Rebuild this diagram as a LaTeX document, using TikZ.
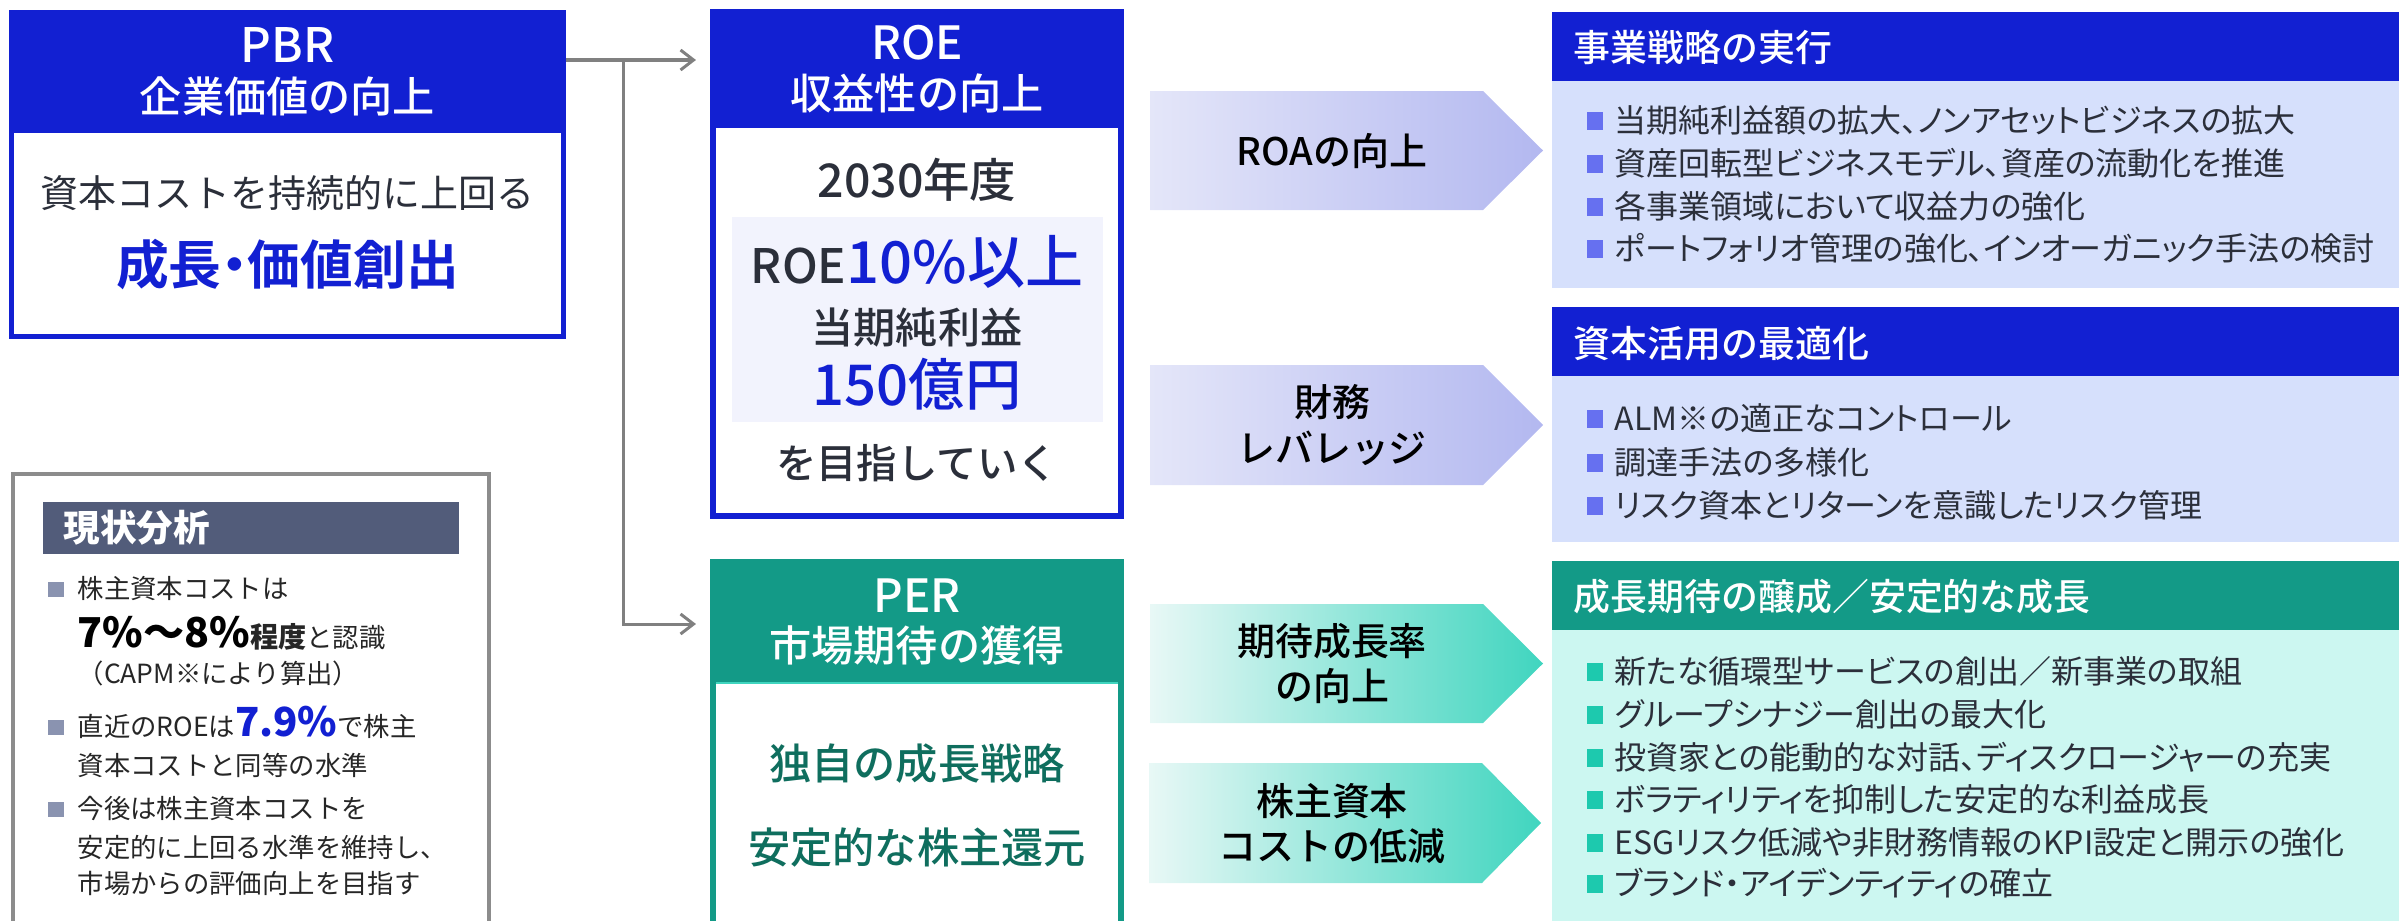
\documentclass[tikz,border=0pt]{standalone}
\usepackage{fontspec}
\setmainfont{Noto Sans CJK JP}
\newfontfamily\med{Noto Sans CJK JP Medium}
\newfontfamily\pal[RawFeature=+palt]{Noto Sans CJK JP}
\newfontfamily\palb[RawFeature=+palt]{Noto Sans CJK JP Bold}
\usetikzlibrary{arrows.meta,calc}
\definecolor{hblue}{HTML}{1220D2}
\definecolor{hgreen}{HTML}{139A87}
\definecolor{lblue}{HTML}{D6E0FC}
\definecolor{lgreen}{HTML}{CCF7F1}
\definecolor{bblue}{HTML}{6670F0}
\definecolor{bgreen}{HTML}{1DC9AE}
\definecolor{roebg}{HTML}{F2F3FD}
\definecolor{txt}{HTML}{2B2F3A}
\definecolor{dgreen}{HTML}{0F6E5E}
\definecolor{slate}{HTML}{525C7A}
\definecolor{gbul}{HTML}{8A93B0}
\definecolor{gborder}{HTML}{8C8C8C}
\definecolor{conng}{HTML}{808080}
\definecolor{arbL}{HTML}{E4E6F9}
\definecolor{arbR}{HTML}{B3B8F0}
\definecolor{argL}{HTML}{E8F8F6}
\definecolor{argR}{HTML}{40D5BF}
\newcommand\fs[1]{\fontsize{#1}{#1}\selectfont}
\begin{document}
\begin{tikzpicture}[x=0.01cm,y=-0.01cm,
  t/.style={inner sep=0,text=txt},
  wt/.style={inner sep=0,text=white},
  conn/.style={draw=conng,line width=0.03cm,-{Straight Barb[length=0.13cm,width=0.2cm]}},
  frame/.style={inner sep=0,anchor=north west,outer sep=0},
  bulb/.style={fill=bblue,inner sep=0,minimum width=0.16cm,minimum height=0.18cm},
  bulg/.style={fill=bgreen,inner sep=0,minimum width=0.16cm,minimum height=0.18cm},
  bulk/.style={fill=gbul,inner sep=0,minimum width=0.16cm,minimum height=0.15cm},
  li/.style={inner sep=0,text=txt,anchor=base west,font=\pal\fs{9.1}},
  sl/.style={inner sep=0,text=black!85,anchor=base west,font=\fs{7.5}},
  arrtxt/.style={inner sep=0,text=black,anchor=base,font=\med\fs{10.8}},
  rhd/.style={inner sep=0,text=white,anchor=base west,font=\med\fs{10.5}}]
\useasboundingbox (0,0) rectangle (2399,921);
\clip (0,0) rectangle (2399,921);

% ---------- PBR ----------
\node[frame,fill=hblue,minimum width=5.57cm,minimum height=3.29cm] (pbr) at (9,10) {};
\fill[white] (14,133) rectangle (561,334);
\node[wt,anchor=base,font=\med\fs{13.5}] (pbrT) at (287.5,62) {PBR};
\node[wt,anchor=base,font=\med\fs{12}] (pbrS) at (287.5,112) {企業価値の向上};
\node[t,anchor=base,font=\fs{10.8}] (pbrB) at (287.5,207) {資本コストを持続的に上回る};
\node[inner sep=0,text=hblue,anchor=base,font=\palb\fs{15}] (pbrC) at (287.5,284) {成長・価値創出};

% ---------- ROE ----------
\node[frame,fill=hblue,minimum width=4.14cm,minimum height=5.10cm] (roe) at (710,9) {};
\fill[white] (716,128) rectangle (1118,513);
\fill[roebg] (732,217) rectangle (1103,422);
\node[wt,anchor=base,font=\med\fs{13}] (roeT) at (917,60) {ROE};
\node[wt,anchor=base,font=\med\fs{12}] (roeS) at (917,109) {収益性の向上};
\node[t,anchor=base,font=\med\fs{13.2}] (roeY) at (917,197) {2030年度};
\node[t,anchor=base,font=\med\fs{13.5}] (roeR) at (917,283) {ROE\textcolor{hblue}{\fs{16.5}10\%以上}};
\node[t,anchor=base,font=\med\fs{12}] (roeN) at (917,343) {当期純利益};
\node[inner sep=0,text=hblue,anchor=base,font=\med\fs{16}] (roeV) at (917,405) {150億円};
\node[t,anchor=base,font=\med\fs{11.5}] (roeG) at (917,478) {を目指していく};

% ---------- PER ----------
\node[frame,fill=hgreen,minimum width=4.14cm,minimum height=3.9cm] (per) at (710,559) {};
\fill[white] (716,682) rectangle (1118,960);
\draw[argR,line width=0.02cm] (716,683) -- (1118,683);
\node[wt,anchor=base,font=\med\fs{13}] (perT) at (917,612) {PER};
\node[wt,anchor=base,font=\med\fs{12}] (perS) at (917,661) {市場期待の獲得};
\node[inner sep=0,text=dgreen,anchor=base,font=\med\fs{12}] (perA) at (917,779) {独自の成長戦略};
\node[inner sep=0,text=dgreen,anchor=base,font=\med\fs{12}] (perB) at (917,863) {安定的な株主還元};

% ---------- connectors ----------
\coordinate (split) at ($(pbr.north east)+(57,50)$);
\draw[conn,shorten >=0.14cm] ($(pbr.north east)+(0,50)$) -- ($(roe.north west)+(0,51)$);
\draw[conn,shorten >=0.14cm] (split) |- ($(per.north west)+(0,65)$);

% ---------- arrows ----------
\shade[left color=arbL,right color=arbR] (1150,91) -- (1483,91) -- (1543,150.5) -- (1483,210) -- (1150,210) -- cycle;
\shade[left color=arbL,right color=arbR] (1150,365) -- (1483,365) -- (1543,425) -- (1483,485) -- (1150,485) -- cycle;
\shade[left color=argL,right color=argR] (1150,604) -- (1483,604) -- (1543,663.5) -- (1483,723) -- (1150,723) -- cycle;
\shade[left color=argL,right color=argR] (1149,763) -- (1482,763) -- (1541,823) -- (1482,883) -- (1149,883) -- cycle;
\node[arrtxt] (a1) at (1332,165) {ROAの向上};
\node[arrtxt] (a2a) at (1332,416) {財務};
\node[arrtxt] (a2b) at (1332,462) {レバレッジ};
\node[arrtxt] (a3a) at (1332,655) {期待成長率};
\node[arrtxt] (a3b) at (1332,700) {の向上};
\node[arrtxt] (a4a) at (1332,815) {株主資本};
\node[arrtxt] (a4b) at (1332,860) {コストの低減};

% ---------- right box 1 ----------
\node[frame,fill=lblue,minimum width=8.5cm,minimum height=2.76cm] (rb1) at (1552,12) {};
\node[frame,fill=hblue,minimum width=8.5cm,minimum height=0.69cm] (rh1) at (1552,12) {};
\node[rhd] (rt1) at (1573,61) {事業戦略の実行};
\node[bulb] (q11) at (1595,121) {}; \node[li] (l11) at (1614,132) {当期純利益額の拡大、ノンアセットビジネスの拡大};
\node[bulb] (q12) at (1595,164) {}; \node[li] (l12) at (1614,175) {資産回転型ビジネスモデル、資産の流動化を推進};
\node[bulb] (q13) at (1595,207) {}; \node[li] (l13) at (1614,218) {各事業領域において収益力の強化};
\node[bulb] (q14) at (1595,249) {}; \node[li] (l14) at (1614,260) {ポートフォリオ管理の強化、インオーガニック手法の検討};

% ---------- right box 2 ----------
\node[frame,fill=lblue,minimum width=8.5cm,minimum height=2.35cm] (rb2) at (1552,307) {};
\node[frame,fill=hblue,minimum width=8.5cm,minimum height=0.69cm] (rh2) at (1552,307) {};
\node[rhd] (rt2) at (1573,357) {資本活用の最適化};
\node[bulb] (q21) at (1595,419) {}; \node[li] (l21) at (1614,430) {ALM※の適正なコントロール};
\node[bulb] (q22) at (1595,463) {}; \node[li] (l22) at (1614,474) {調達手法の多様化};
\node[bulb] (q23) at (1595,506) {}; \node[li] (l23) at (1614,517) {リスク資本とリターンを意識したリスク管理};

% ---------- right box 3 ----------
\node[frame,fill=lgreen,minimum width=8.5cm,minimum height=4.0cm] (rb3) at (1552,561) {};
\node[frame,fill=hgreen,minimum width=8.5cm,minimum height=0.69cm] (rh3) at (1552,561) {};
\node[rhd] (rt3) at (1573,610) {成長期待の醸成／安定的な成長};
\node[bulg] (q31) at (1595,672) {}; \node[li] (l31) at (1614,683) {新たな循環型サービスの創出／新事業の取組};
\node[bulg] (q32) at (1595,715) {}; \node[li] (l32) at (1614,726) {グループシナジー創出の最大化};
\node[bulg] (q33) at (1595,758) {}; \node[li] (l33) at (1614,769) {投資家との能動的な対話、ディスクロージャーの充実};
\node[bulg] (q34) at (1595,800) {}; \node[li] (l34) at (1614,811) {ボラティリティを抑制した安定的な利益成長};
\node[bulg] (q35) at (1595,843) {}; \node[li] (l35) at (1614,854) {ESGリスク低減や非財務情報のKPI設定と開示の強化};
\node[bulg] (q36) at (1595,884) {}; \node[li] (l36) at (1614,895) {ブランド・アイデンティティの確立};

% ---------- 現状分析 ----------
\node[frame,draw=gborder,line width=0.04cm,minimum width=4.76cm,minimum height=4.9cm] (stat) at (13,474) {};
\node[frame,fill=slate,minimum width=4.16cm,minimum height=0.52cm] (stath) at (43,502) {};
\node[inner sep=0,text=white,anchor=base west,font=\bfseries\fs{10.4}] (statT) at (63,541) {現状分析};
\node[bulk] (s1) at (56,589) {};
\node[sl] (sl1) at (77,598) {株主資本コストは};
\node[sl] (sl2) at (77,647) {{\bfseries\color{black}\fs{11.7}7\%〜8\%}{\bfseries\fs{8}程度}と認識};
\node[sl] (sl3) at (77,683) {（CAPM※により算出）};
\node[bulk] (s2) at (56,727) {};
\node[sl] (sl4) at (77,736) {直近のROEは{\bfseries\color{hblue}\fs{11.4}7.9\%}で株主};
\node[sl] (sl5) at (77,775) {資本コストと同等の水準};
\node[bulk] (s3) at (56,809) {};
\node[sl] (sl6) at (77,818) {今後は株主資本コストを};
\node[sl] (sl7) at (77,857) {安定的に上回る水準を維持し、};
\node[sl] (sl8) at (77,893) {市場からの評価向上を目指す};
\end{tikzpicture}
\end{document}
